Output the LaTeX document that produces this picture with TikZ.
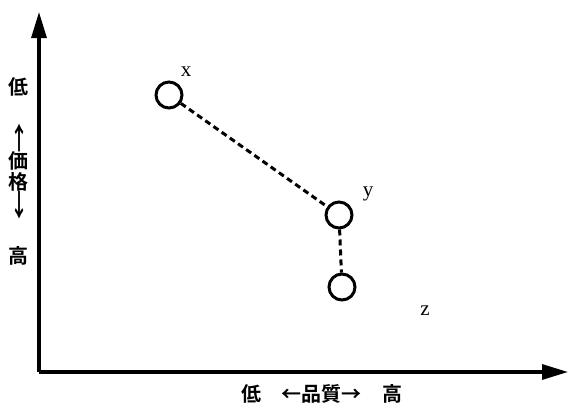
\documentclass[tikz,border=0pt]{standalone}
\usepackage{graphicx}
\usepackage{fontspec}
\setmainfont{Liberation Serif}
\newfontfamily\cjk{Noto Sans CJK JP}[BoldFont={* Bold}]
\usetikzlibrary{arrows.meta}
\begin{document}
\begin{tikzpicture}[x=1pt,y=-1pt,
  axis/.style={line width=3.2pt,-{Triangle[length=26pt,width=15pt]}},
  pt/.style={circle,draw,line width=3pt,minimum size=26pt,inner sep=0pt},
  conn/.style={line width=3pt,dash pattern=on 6pt off 4pt},
  lab/.style={font=\fontsize{21}{21}\selectfont,inner sep=0pt},
  cj/.style={font=\cjk\bfseries\fontsize{20}{20}\selectfont,inner sep=0pt}]
\useasboundingbox (0,0) rectangle (568,405);
\coordinate (o) at (39,372);
\coordinate (ytip) at (39,12);
\coordinate (xtip) at (568,372);
\draw[axis] (o) -- (ytip);
\draw[axis] (o) -- (xtip);
\node[pt] (cx) at (169,95) {};
\node[pt] (cy) at (339,215) {};
\node[pt] (cz) at (342,287) {};
\draw[conn] (cx) -- (cy);
\draw[conn] (cy) -- (cz);
\node[lab] (lx) at (186,72) {x};
\node[lab] (ly) at (368,194) {y};
\node[lab] (lz) at (425,311) {z};
% vertical axis label
\node[cj] (v1) at (19,87) {低};
\node[cj] (v2) at (19,138) {\scalebox{0.9}[1.5]{↑}};
\node[cj] (v3) at (19,161) {価};
\node[cj] (v4) at (19,182) {格};
\node[cj] (v5) at (19,205) {\scalebox{0.9}[1.5]{↓}};
\node[cj] (v6) at (19,256) {高};
% horizontal axis label
\node[cj] (h1) at (251,394) {低};
\node[cj] (h2) at (321,394) {←品質→};
\node[cj] (h3) at (392,394) {高};
\end{tikzpicture}
\end{document}
